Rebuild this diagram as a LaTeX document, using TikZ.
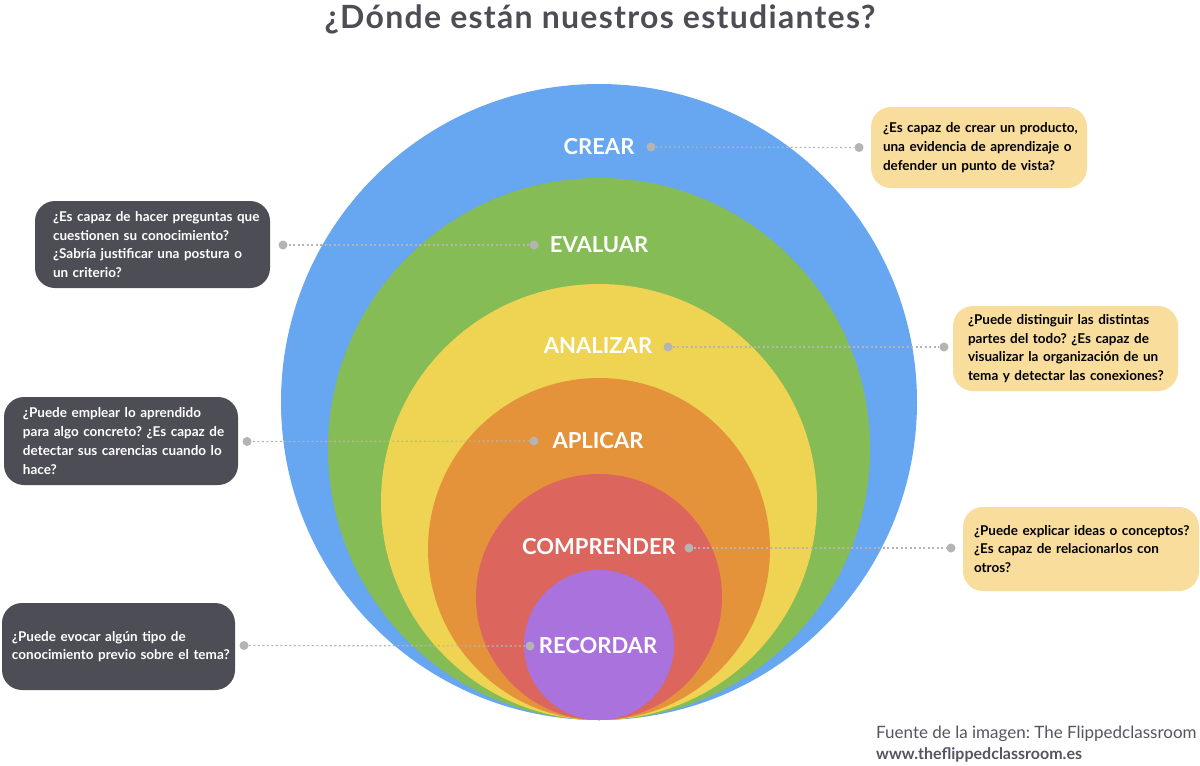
\documentclass[tikz,border=0pt]{standalone}
\usepackage{fontspec}
\setmainfont{Lato}
\frenchspacing
\definecolor{cblue}{HTML}{67A6F1}
\definecolor{cgreen}{HTML}{86BC56}
\definecolor{cyellow}{HTML}{EFD352}
\definecolor{corange}{HTML}{E4933B}
\definecolor{cred}{HTML}{DC665D}
\definecolor{cpurple}{HTML}{AA72DC}
\definecolor{boxy}{HTML}{F8DD9C}
\definecolor{darkb}{HTML}{4D4D55}
\definecolor{dotgrey}{HTML}{B4B4B4}
\definecolor{titlegrey}{HTML}{4D4D55}
\definecolor{footgrey}{HTML}{55555F}
\begin{document}
\begin{tikzpicture}[x=1pt,y=-1pt,
  lbl/.style={text=white, font=\bfseries\fontsize{22}{22}\selectfont, inner sep=0pt},
  dotn/.style={circle, fill=dotgrey, minimum size=9pt, inner sep=0pt},
  conn/.style={dotgrey, line width=1.2pt, dash pattern=on 2pt off 2.5pt},
  qbox/.style={rounded corners=20pt, align=left, inner sep=0pt,
    font=\bfseries\fontsize{13.5}{18.7}\selectfont},
  ybox/.style={qbox, fill=boxy, text=black},
  dbox/.style={qbox, fill=darkb, text=white}]
\useasboundingbox (0,0) rectangle (1200,766);
\fill[white] (0,0) rectangle (1200,766);
% title
\node[anchor=base, text=titlegrey, font=\bfseries\fontsize{32}{32}\selectfont\addfontfeature{LetterSpace=4}, inner sep=0pt] (title) at (600,28) {¿Dónde están nuestros estudiantes?};
% circles
\fill[cblue] (599,402) circle (318pt);
\fill[cgreen] (599,449) circle (271pt);
\fill[cyellow] (599,502) circle (218pt);
\fill[corange] (599,549) circle (171pt);
\fill[cred] (599,597) circle (123pt);
\fill[cpurple] (599,645) circle (75pt);
% level labels
\node[lbl] (crear) at (599,146.5) {CREAR};
\node[lbl] (evaluar) at (599,245) {EVALUAR};
\node[lbl] (analizar) at (598,346) {ANALIZAR};
\node[lbl] (aplicar) at (598,441) {APLICAR};
\node[lbl] (comprender) at (599,547) {COMPRENDER};
\node[lbl] (recordar) at (598,646) {RECORDAR};
% boxes
\node[ybox, minimum width=216pt, minimum height=81pt, text width=192pt] (bcrear) at (979,147.5)
  {\mbox{¿Es capaz de crear un producto,}\\\mbox{una evidencia de aprendizaje o}\\\mbox{defender un punto de vista?}};
\node[ybox, minimum width=225pt, minimum height=85pt, text width=195pt] (banalizar) at (1065.5,348.5)
  {\mbox{¿Puede distinguir las distintas}\\\mbox{partes del todo? ¿Es capaz de}\\\mbox{visualizar la organización de un}\\\mbox{tema y detectar las conexiones?}};
\node[ybox, minimum width=236pt, minimum height=84pt, text width=214pt] (bcomprender) at (1081,549)
  {\mbox{¿Puede explicar ideas o conceptos?}\\\mbox{¿Es capaz de relacionarlos con}\\\mbox{otros?}};
\node[dbox, minimum width=235pt, minimum height=87pt, text width=199pt] (bevaluar) at (152.5,244.5)
  {\mbox{¿Es capaz de hacer preguntas que}\\\mbox{cuestionen su conocimiento?}\\\mbox{¿Sabría justificar una postura o}\\\mbox{un criterio?}};
\node[dbox, minimum width=234pt, minimum height=88pt, text width=196pt] (baplicar) at (121,441)
  {\mbox{¿Puede emplear lo aprendido}\\\mbox{para algo concreto? ¿Es capaz de}\\\mbox{detectar sus carencias cuando lo}\\\mbox{hace?}};
\node[dbox, minimum width=233pt, minimum height=87pt, text width=213pt] (brecordar) at (118.5,646.5)
  {\mbox{¿Puede evocar algún tipo de}\\\mbox{conocimiento previo sobre el tema?}};
% dots
\node[dotn] (dcrearA) at (651,147) {};
\node[dotn] (dcrearB) at (859,147.5) {};
\node[dotn] (devaluarA) at (534,245) {};
\node[dotn] (devaluarB) at (283,245) {};
\node[dotn] (danalizarA) at (668,347) {};
\node[dotn] (danalizarB) at (944,347) {};
\node[dotn] (daplicarA) at (534,441) {};
\node[dotn] (daplicarB) at (247,441.5) {};
\node[dotn] (dcomprenderA) at (689,548) {};
\node[dotn] (dcomprenderB) at (951,548) {};
\node[dotn] (drecordarA) at (530,646) {};
\node[dotn] (drecordarB) at (244,645.5) {};
% connectors
\draw[conn] (dcrearA) -- (dcrearB);
\draw[conn] (devaluarA) -- (devaluarB);
\draw[conn] (danalizarA) -- (danalizarB);
\draw[conn] (daplicarA) -- (daplicarB);
\draw[conn] (dcomprenderA) -- (dcomprenderB);
\draw[conn] (drecordarA) -- (drecordarB);
% footer
\node[anchor=base west, text=footgrey, font=\fontsize{17}{17}\selectfont, inner sep=0pt] (fuente) at (876,738) {Fuente de la imagen: The Flippedclassroom};
\node[anchor=base west, text=footgrey, font=\bfseries\fontsize{16}{16}\selectfont, inner sep=0pt] (web) at (876,759) {www.theflippedclassroom.es};
\end{tikzpicture}
\end{document}
